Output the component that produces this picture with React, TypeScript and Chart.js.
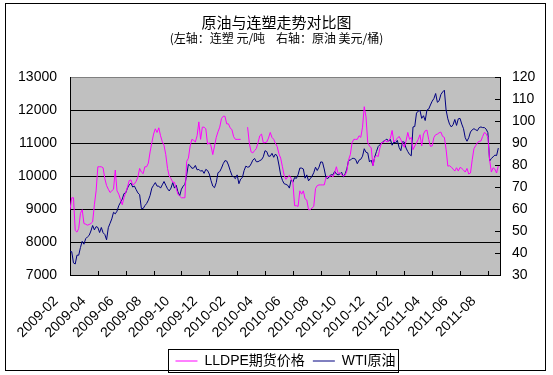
import React, { useEffect, useRef } from "react";
import { Chart, registerables } from "chart.js";

Chart.register(...registerables);

// Tick labels for the month axis (every 2 months, starting 2009-02)
const monthLabels = [
  "2009-02", "2009-04", "2009-06", "2009-08", "2009-10", "2009-12",
  "2010-02", "2010-04", "2010-06", "2010-08", "2010-10", "2010-12",
  "2011-02", "2011-04", "2011-06", "2011-08",
];
// Samples are taken every 1/8 month from the start of 2009-02
const STEP_MONTHS = 0.125;
const X_MAX_MONTHS = 30.87;

// LLDPE futures price (yuan/ton), left axis
const lldpe2009: (number | null)[] = [
  8980, 9340, 9340, 8350, 8300, 8410, 8870, 8980, 8560, 8540,
  8510, 8530, 8560, 8610, 9130, 9550, 10280, 10280, 10280, 10250,
  9920, 9710, 9600, 9500, 9550, 9600, 10180, 9550, 9450, 9290,
  9130, 9340, 9500, 9660, 9860, 9880, 9730, 9760, 9840, 9970,
  10230, 10120, 10070, 10280, 10280, 10390, 10730, 11010, 11270, 11430,
  11320, 11460, 11220, 11040, 10930, 10650, 10230, 10000, 9920, 9810,
  9810, 9620, 9450, 9390, 9340, 9340, 9340, 10440, 10540, 10910,
  11110, 11080, 11030, 11220, 11640, 11110, 11480, 11480, 11430, 10960,
  11010, 10910, 10650, 10910, 11170, 11340, 11480, 11740,
];
const lldpe2010: (number | null)[] = [
  11810, 11810,
  11580, 11580, 11460, 11400, 11190, 11110, 11110, 11110, 11110, null,
  null, null, 11480, 10990, 10730, 10700, 10770, 10830, 11010, 11220,
  11270, 11010, 11010, 11030, 11150, 11320, 11170, 11110, 10990, 10890,
  10670, 10540, 10280, 10020, 9900, 9970, 10020, 9920, 9810, 9100,
  9100, 9080, 9550, 9450, 9550, 9310, 9270, 8980, 8980, 9030,
  9080, 9620, 9710, 9730, 9730, 9730, 9730, 9940, 10000, 9970,
  10020, 9970, 10100, 10280, 10070, 10100, 10040, 10000, 10020, 10150,
  10490, 10650, 11010, 11110, 11110, 11110, 11220, 11170, 11480, 12100,
  11790, 11010, 10910, 10850, 10310, 10560, 10620, 10590, 10850, 11010,
  11010, 11090, 11030, 11060,
];
const lldpe2011: (number | null)[] = [
  11150, 11380, 11030, 11090, 11140, 11200,
  11100, 10990, 10870, 11060, 11320, 11110, 11170, 10800, 10910, 11000,
  11110, 11250, 10910, 11270, 11370, 11390, 11110, 10900, 10910, 11170,
  11250, 11270, 11310, 11330, 11200, 11170, 10810, 10300, 10310, 10270,
  10210, 10150, 10250, 10150, 10260, 10230, 10180, 10120, 10230, 10060,
  10090, 10490, 10830, 10920, 11010, 11050, 11060, 11200, 11320, 11280,
  11170, 10490, 10120, 10250, 10210, 10090, 10310,
];

// WTI crude (USD/barrel), right axis
const wti2009: number[] = [
  40.6, 40.6, 35.5, 35, 39, 39, 42.5, 45.3, 44, 46.5,
  47.3, 48, 50, 52.5, 50.5, 52, 51.6, 49.3, 51.6, 49.2,
  48.4, 46, 51.5, 53.5, 55.5, 58.5, 57.8, 59, 61.5, 63,
  64.5, 67, 67.3, 69.5, 71, 71.8, 70, 70.4, 68.8, 67.3,
  66.5, 60.2, 60.2, 61.5, 62.5, 64, 66.2, 69.5, 70.8, 72,
  70.4, 70.4, 69.5, 71, 72.5, 70.8, 69.2, 68.2, 69.5, 72,
  69.5, 70.8, 67.8, 66, 69, 70.4, 71.2, 75.5, 80.3, 79.7,
  78.5, 78.6, 79.8, 77.8, 78, 77.2, 77.5, 76.2, 78, 77.5,
  75.9, 72.9, 70.4, 69.7, 72, 76.5, 77, 78.6,
];
const wti2010: number[] = [
  80.6, 82,
  81.8, 80, 77.5, 75.3, 74.5, 73.8, 75.5, 71.5, 73.6, 74.3,
  77.5, 79.5, 79, 79.2, 80.5, 82.2, 83, 81.5, 81.5, 82,
  82.4, 83.7, 86.5, 86.1, 84, 84, 85.3, 83.5, 85, 84,
  80, 75.5, 73, 71.5, 71.2, 70.8, 69.5, 73.2, 72.2, 74.3,
  73.9, 75.6, 78.6, 78.6, 78.2, 74, 75.5, 72.8, 73.8, 74.9,
  76.5, 79, 77.5, 79, 81.4, 81.3, 78.2, 74.3, 73.8, 75,
  75.6, 75.5, 77.1, 75.9, 75.5, 75.9, 76.7, 74.5, 75.9, 78.2,
  82.2, 82.2, 83, 83, 82.6, 80.6, 82.2, 82.6, 84, 87.4,
  85.8, 85.5, 81.4, 82.2, 79.8, 83.6, 86.1, 88.4, 89.2, 90,
  90.8, 91.2, 91.8, 90.8,
];
const wti2011: number[] = [
  91.6, 89, 90.4, 90, 91.2, 88,
  86.5, 90.6, 90.4, 87.7, 86.1, 84.8, 84.2, 97.3, 97.5, 103.6,
  104.5, 104.8, 101.2, 102.4, 100.2, 105, 105.4, 107.3, 109, 110.2,
  112.5, 108.5, 109.2, 112, 113.2, 114, 105, 101, 98.5, 97.3,
  98.3, 100.7, 98, 101, 101.2, 98.6, 96.5, 92.4, 90.8, 92.4,
  95, 96, 96.5, 96, 95.6, 97, 97.3, 97, 97, 96.3,
  94.7, 81.8, 83, 83.7, 84.5, 84.3, 87.7,
];

const lldpe = [...lldpe2009, ...lldpe2010, ...lldpe2011];
const wti = [...wti2009, ...wti2010, ...wti2011];

const LATIN = "'Liberation Sans', Arial, sans-serif";
const MIXED = "'Liberation Sans', 'Noto Sans CJK SC', sans-serif";
const CJK = "'Noto Sans CJK SC', sans-serif";

const framePlugin = {
  id: "frame",
  afterLayout(chart: any) {
    const lg = chart.legend;
    if (lg) {
      const dx = 9;
      const dy = 3;
      lg.left += dx;
      lg.right += dx;
      lg.top += dy;
      lg.bottom += dy;
    }
  },
  beforeDraw(chart: any) {
    const { ctx, chartArea: a } = chart;
    ctx.save();
    ctx.fillStyle = "#ffffff";
    ctx.fillRect(0, 0, chart.width, chart.height);
    ctx.fillStyle = "#C0C0C0";
    ctx.fillRect(a.left, a.top, a.right - a.left, a.bottom - a.top);
    ctx.strokeStyle = "#808080";
    ctx.lineWidth = 1;
    ctx.beginPath();
    ctx.moveTo(a.left, Math.round(a.top) + 0.5);
    ctx.lineTo(a.right, Math.round(a.top) + 0.5);
    ctx.stroke();
    ctx.strokeStyle = "#000000";
    ctx.strokeRect(5.5, 3.5, 540, 367);
    ctx.restore();
  },
  afterDraw(chart: any) {
    const { ctx, chartArea: a } = chart;
    ctx.save();
    ctx.strokeStyle = "#000000";
    ctx.lineWidth = 1;
    const xs = chart.scales.x;
    xs.ticks.forEach((t: any) => {
      const px = Math.round(xs.getPixelForValue(t.value)) + 0.5;
      ctx.beginPath();
      ctx.moveTo(px, a.bottom);
      ctx.lineTo(px, a.bottom - 4);
      ctx.stroke();
    });
    const ys = chart.scales.y1;
    ys.ticks.forEach((t: any) => {
      const py = Math.round(ys.getPixelForValue(t.value)) + 0.5;
      ctx.beginPath();
      ctx.moveTo(a.right, py);
      ctx.lineTo(a.right - 5, py);
      ctx.stroke();
    });
    const lg = chart.legend;
    if (lg && lg.legendHitBoxes && lg.legendHitBoxes.length) {
      const hb = lg.legendHitBoxes;
      let l = Infinity;
      let r = -Infinity;
      let t = Infinity;
      let b = -Infinity;
      hb.forEach((h: any) => {
        l = Math.min(l, h.left);
        r = Math.max(r, h.left + h.width);
        t = Math.min(t, h.top);
        b = Math.max(b, h.top + h.height);
      });
      const cy = (t + b) / 2;
      ctx.strokeRect(Math.round(l - 7) + 0.5, Math.round(cy - 12) + 0.5, Math.round(r - l + 10), 23);
    }
    ctx.restore();
  },
};

export default function App() {
  const ref = useRef<HTMLCanvasElement | null>(null);

  useEffect(() => {
    if (!ref.current) return;
    const chart = new Chart(ref.current, {
      type: "line",
      data: {
        datasets: [
          {
            label: "LLDPE期货价格",
            data: lldpe.map((v, i) => ({ x: i * STEP_MONTHS, y: v })) as any,
            yAxisID: "y",
            borderColor: "#FF00FF",
            backgroundColor: "#FF00FF",
            borderWidth: 1,
            pointRadius: 0,
            tension: 0,
            spanGaps: false,
          },
          {
            label: "WTI原油",
            data: wti.map((v, i) => ({ x: i * STEP_MONTHS, y: v })) as any,
            yAxisID: "y1",
            borderColor: "#000080",
            backgroundColor: "#000080",
            borderWidth: 1,
            pointRadius: 0,
            tension: 0,
          },
        ],
      },
      options: {
        animation: false,
        responsive: false,
        devicePixelRatio: 1,
        layout: { padding: { left: 0, right: 0, top: 0, bottom: 0 } },
        plugins: {
          title: {
            display: true,
            text: "原油与连塑走势对比图",
            color: "#000",
            font: { family: CJK, size: 15, weight: "normal" },
            padding: { top: 13, bottom: 0 },
          },
          subtitle: {
            display: true,
            text: "(左轴：连塑 元/吨    右轴：原油 美元/桶)",
            color: "#000",
            font: { family: CJK, size: 12, weight: "normal" },
            padding: { top: 0, bottom: 31.6 },
          },
          legend: {
            display: true,
            position: "bottom",
            labels: {
              usePointStyle: true,
              pointStyle: "line",
              pointStyleWidth: 22,
              padding: 8,
              color: "#000",
              font: { family: MIXED, size: 14 },
            },
          },
          tooltip: { enabled: false },
        },
        scales: {
          x: {
            type: "linear",
            min: 0,
            max: X_MAX_MONTHS,
            afterBuildTicks: (axis: any) => {
              axis.ticks = monthLabels.map((_, i) => ({ value: i * 2 }));
            },
            afterFit: (s: any) => {
              s.height = 68;
            },
            ticks: {
              autoSkip: false,
              minRotation: 45,
              maxRotation: 45,
              padding: 18,
              labelOffset: -14,
              color: "#000",
              font: { family: LATIN, size: 14 },
              callback: (v: any) => monthLabels[Math.round(Number(v) / 2)] ?? "",
            },
            grid: { drawOnChartArea: false, drawTicks: false },
            border: { display: true, color: "#000", width: 1 },
          },
          y: {
            position: "left",
            min: 7000,
            max: 13000,
            afterFit: (s: any) => {
              s.width = 70;
            },
            ticks: {
              stepSize: 1000,
              padding: 13,
              color: "#000",
              font: { family: LATIN, size: 14 },
              callback: (v: any) => String(v),
            },
            grid: {
              drawTicks: false,
              color: (c: any) => (c.tick && c.tick.value === 13000 ? "rgba(0,0,0,0)" : "#000"),
              lineWidth: 1,
            },
            border: { display: true, color: "#000", width: 1 },
          },
          y1: {
            position: "right",
            min: 30,
            max: 120,
            afterFit: (s: any) => {
              s.width = 53;
            },
            ticks: {
              stepSize: 10,
              padding: 12,
              color: "#000",
              font: { family: LATIN, size: 14 },
              callback: (v: any) => String(v),
            },
            grid: { drawOnChartArea: false, drawTicks: false },
            border: { display: true, color: "#000", width: 1 },
          },
        },
      } as any,
      plugins: [framePlugin],
    });
    return () => chart.destroy();
  }, []);

  return (
    <div style={{ position: "fixed", left: 0, top: 0, width: 553, height: 375, background: "#fff" }}>
      <canvas ref={ref} width={553} height={375} style={{ display: "block", width: 553, height: 375 }} />
    </div>
  );
}
